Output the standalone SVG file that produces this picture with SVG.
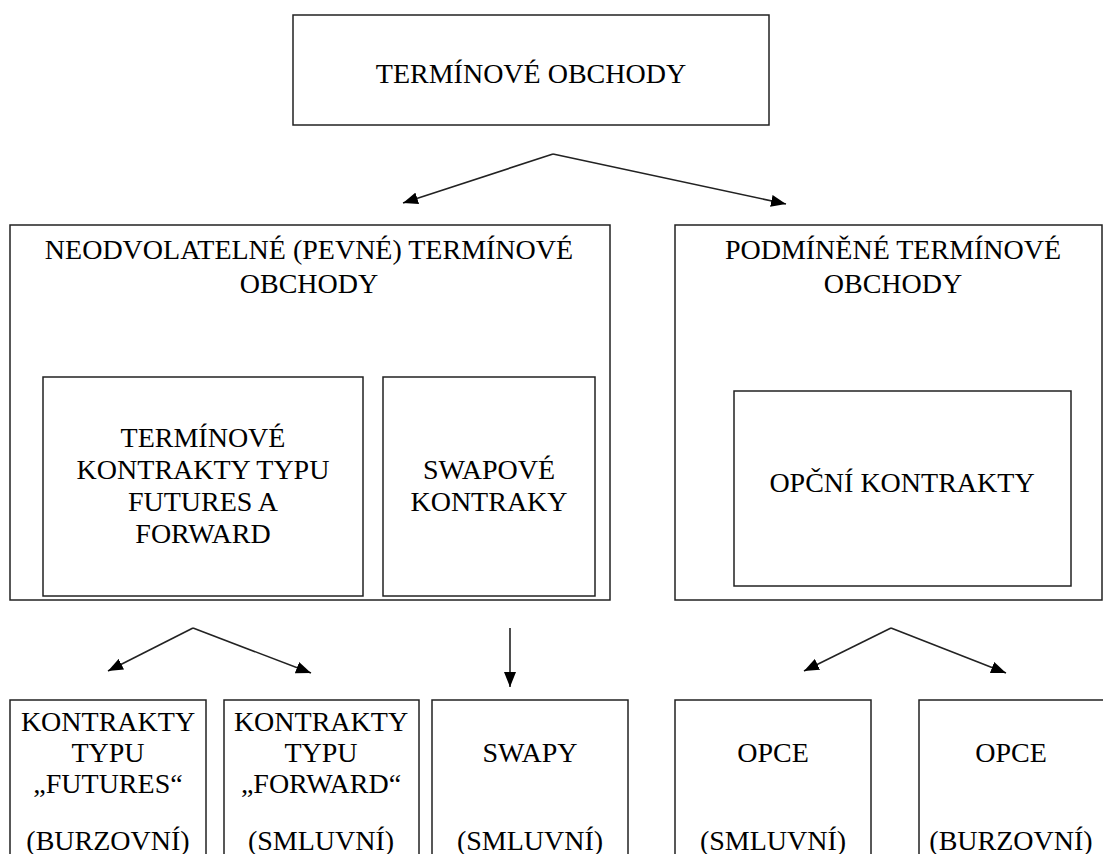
<svg xmlns="http://www.w3.org/2000/svg" width="1103" height="854" viewBox="0 0 1103 854">
<defs>
<marker id="ah" viewBox="0 0 15 12" refX="15" refY="6" markerWidth="15" markerHeight="12" markerUnits="userSpaceOnUse" orient="auto">
<path d="M0,0 L15,6 L0,12 Z" fill="#000"/>
</marker>
<style>
.box{fill:#fff;stroke:#222;stroke-width:1.5}
.t{font-family:Liberation Serif, serif;font-size:28px;fill:#000;text-anchor:middle}
.c{fill:none;stroke:#222;stroke-width:1.6;marker-end:url(#ah)}
</style>
</defs>
<rect width="1103" height="854" fill="#fff"/>
<g id="top">
<rect class="box" x="293" y="15" width="476" height="110"/>
<text class="t" x="531" y="83" font-family="Liberation Serif, serif">TERMÍNOVÉ OBCHODY</text>
</g>
<g id="pevne">
<rect class="box" x="10" y="225" width="600" height="375"/>
<text class="t" x="309" y="259" font-family="Liberation Serif, serif">NEODVOLATELNÉ (PEVNÉ) TERMÍNOVÉ</text>
<text class="t" x="309" y="293" font-family="Liberation Serif, serif">OBCHODY</text>
</g>
<g id="futfwd">
<rect class="box" x="43" y="377" width="320" height="219"/>
<text class="t" x="203" y="447" font-family="Liberation Serif, serif">TERMÍNOVÉ</text>
<text class="t" x="203" y="479" font-family="Liberation Serif, serif">KONTRAKTY TYPU</text>
<text class="t" x="203" y="511" font-family="Liberation Serif, serif">FUTURES A</text>
<text class="t" x="203" y="543" font-family="Liberation Serif, serif">FORWARD</text>
</g>
<g id="swapove">
<rect class="box" x="383" y="377" width="212" height="219"/>
<text class="t" x="489" y="479" font-family="Liberation Serif, serif">SWAPOVÉ</text>
<text class="t" x="489" y="511" font-family="Liberation Serif, serif">KONTRAKY</text>
</g>
<g id="podminene">
<rect class="box" x="675" y="225" width="427" height="375"/>
<text class="t" x="893" y="259" font-family="Liberation Serif, serif">PODMÍNĚNÉ TERMÍNOVÉ</text>
<text class="t" x="893" y="293" font-family="Liberation Serif, serif">OBCHODY</text>
</g>
<g id="opcni">
<rect class="box" x="734" y="391" width="337" height="195"/>
<text class="t" x="902" y="492" font-family="Liberation Serif, serif">OPČNÍ KONTRAKTY</text>
</g>
<g id="futures">
<rect class="box" x="10" y="700" width="196" height="170"/>
<text class="t" x="108" y="731" font-family="Liberation Serif, serif">KONTRAKTY</text>
<text class="t" x="108" y="762" font-family="Liberation Serif, serif">TYPU</text>
<text class="t" x="108" y="793" font-family="Liberation Serif, serif">„FUTURES“</text>
<text class="t" x="108" y="850" font-family="Liberation Serif, serif">(BURZOVNÍ)</text>
</g>
<g id="forward">
<rect class="box" x="224" y="700" width="195" height="170"/>
<text class="t" x="321" y="731" font-family="Liberation Serif, serif">KONTRAKTY</text>
<text class="t" x="321" y="762" font-family="Liberation Serif, serif">TYPU</text>
<text class="t" x="321" y="793" font-family="Liberation Serif, serif">„FORWARD“</text>
<text class="t" x="321" y="850" font-family="Liberation Serif, serif">(SMLUVNÍ)</text>
</g>
<g id="swapy">
<rect class="box" x="432" y="700" width="196" height="170"/>
<text class="t" x="530" y="762" font-family="Liberation Serif, serif">SWAPY</text>
<text class="t" x="530" y="850" font-family="Liberation Serif, serif">(SMLUVNÍ)</text>
</g>
<g id="opce1">
<rect class="box" x="675" y="700" width="196" height="170"/>
<text class="t" x="773" y="762" font-family="Liberation Serif, serif">OPCE</text>
<text class="t" x="773" y="850" font-family="Liberation Serif, serif">(SMLUVNÍ)</text>
</g>
<g id="opce2">
<rect class="box" x="919" y="700" width="196" height="170"/>
<text class="t" x="1011" y="762" font-family="Liberation Serif, serif">OPCE</text>
<text class="t" x="1011" y="850" font-family="Liberation Serif, serif">(BURZOVNÍ)</text>
</g>
<g id="connectors">
<path class="c" d="M553,154 L403,203"/>
<path class="c" d="M553,154 L786,204"/>
<path class="c" d="M193,628 L108,671"/>
<path class="c" d="M193,628 L311,673"/>
<path class="c" d="M510,628 L510,687"/>
<path class="c" d="M891,628 L804,671"/>
<path class="c" d="M891,628 L1006,673"/>
</g>
</svg>
